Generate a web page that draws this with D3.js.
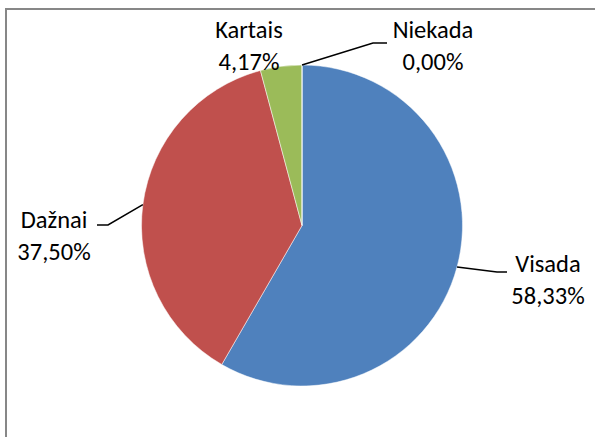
<!DOCTYPE html>
<html>
<head>
<meta charset="utf-8">
<style>
  body { margin: 0; background: #fff; }
  svg text { font-family: Carlito, Lato, "Liberation Sans", sans-serif; font-size: 24.5px; fill: #000; }
</style>
</head>
<body>
<svg width="595" height="437"></svg>
<script src="https://d3js.org/d3.v7.min.js"></script>
<script>

var categories = ["Visada", "Dažnai", "Kartais", "Niekada"],
    values = [58.33, 37.50, 4.17, 0.00],
    colors = ["#4F81BD", "#C0504D", "#9BBB59", "#8064A2"];

// label placement (centre x, first baseline) and leader elbow, per slice
var labelPos = [[548, 272], [54, 228], [249, 38], [433, 38]],
    elbows = [[[497, 272], [507, 272]], [[108, 225], [97, 225]], null, [[373, 43], [387, 43]]];

var svg = d3.select("svg");

// chart frame (runs off the right / bottom of the picture)
svg.append("rect")
    .attr("x", 6).attr("y", 9)
    .attr("width", 620).attr("height", 460)
    .attr("fill", "none")
    .attr("stroke", "#878787")
    .attr("stroke-width", 2);

var cx = 302, cy = 225.5, r = 160.5;

var pie = d3.pie().sort(null).value(function(d) { return d; });
var arcs = pie(values);
var arc = d3.arc().innerRadius(0).outerRadius(r);

var g = svg.append("g").attr("transform", "translate(" + cx + "," + cy + ")");

g.selectAll("path.slice")
    .data(arcs)
  .enter().append("path")
    .attr("class", "slice")
    .attr("d", arc)
    .attr("fill", function(d, i) { return colors[i]; })
    .attr("stroke", "#fff")
    .attr("stroke-width", 0.5);

// leader lines start on the rim at each slice's mid angle
arcs.forEach(function(d, i) {
  if (!elbows[i]) return;
  var a = (d.startAngle + d.endAngle) / 2,
      p0 = [cx + r * Math.sin(a), cy - r * Math.cos(a)];
  svg.append("path")
      .attr("d", d3.line()([p0].concat(elbows[i])))
      .attr("fill", "none")
      .attr("stroke", "#000")
      .attr("stroke-width", 1.5);
});

var fmt = function(v) { return v.toFixed(2).replace(".", ",") + "%"; };

categories.forEach(function(c, i) {
  var t = svg.append("text")
      .attr("x", labelPos[i][0])
      .attr("y", labelPos[i][1])
      .attr("text-anchor", "middle");
  t.append("tspan").attr("x", labelPos[i][0]).text(c);
  t.append("tspan").attr("x", labelPos[i][0]).attr("dy", 32).text(fmt(values[i]));
});

</script>
</body>
</html>
